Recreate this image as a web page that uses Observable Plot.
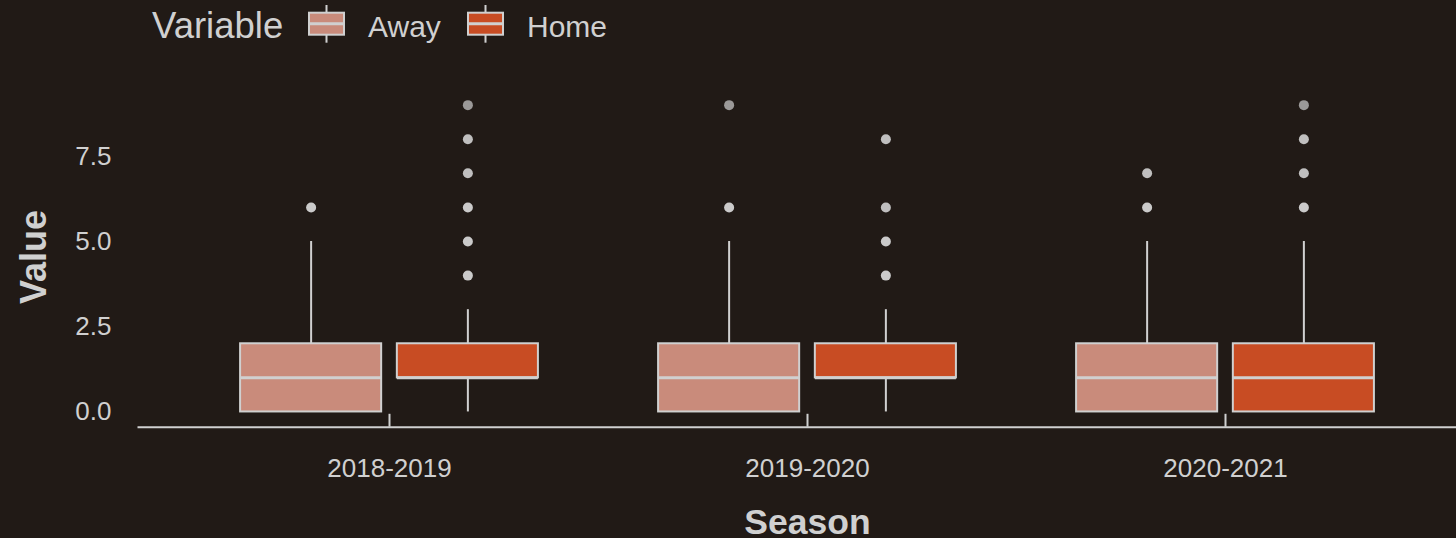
<!DOCTYPE html>
<html><head><meta charset="utf-8">
<script src="https://cdn.jsdelivr.net/npm/d3@7"></script>
<script src="https://cdn.jsdelivr.net/npm/@observablehq/plot@0.6"></script>
<style>
html,body{margin:0;padding:0;background:#211a16;overflow:hidden;width:1456px;height:538px;font-family:"Liberation Sans",Arial,sans-serif;}
#legend svg,#chart svg{display:block;}
</style></head><body>
<div id="legend"></div><div id="chart"></div>
<script>
// ---- data ----
const seasons = ["2018-2019", "2019-2020", "2020-2021"];
const variables = ["Away", "Home"];
const colors = ["#c98b7b", "#c84c23"];

const awayLow    = [0, 0, 0];
const awayQ1     = [0, 0, 0];
const awayMedian = [1, 1, 1];
const awayQ3     = [2, 2, 2];
const awayHigh   = [5, 5, 5];
const awayOutliers = [[6], [6, 9], [6, 7]];
const awayOutlierCounts = [[3], [3, 1], [3, 2]];

const homeLow    = [0, 0, 0];
const homeQ1     = [1, 1, 0];
const homeMedian = [1, 1, 1];
const homeQ3     = [2, 2, 2];
const homeHigh   = [3, 3, 5];
const homeOutliers = [[4, 5, 6, 7, 8, 9], [4, 5, 6, 8], [6, 7, 8, 9]];
const homeOutlierCounts = [[3, 3, 3, 2, 2, 1], [3, 3, 2, 2], [3, 2, 2, 1]];

const yTicks = [0, 2.5, 5, 7.5];

// ---- build tables ----
const dodge = 0.1875, half = 0.16875;
const ink = "#d0d0d0";
const rows = [], outs = [];
seasons.forEach((s, i) => {
  const sets = {
    Away: [awayLow, awayQ1, awayMedian, awayQ3, awayHigh, awayOutliers, awayOutlierCounts],
    Home: [homeLow, homeQ1, homeMedian, homeQ3, homeHigh, homeOutliers, homeOutlierCounts]
  };
  variables.forEach((v, j) => {
    const [lo, q1, md, q3, hi, ol, oc] = sets[v];
    const cx = i + 1 + (j === 0 ? -dodge : dodge);
    rows.push({season: s, variable: v, cx, x1: cx - half, x2: cx + half,
      lo: lo[i], q1: q1[i], median: md[i], q3: q3[i], hi: hi[i]});
    ol[i].forEach((val, k) => outs.push({season: s, variable: v, cx, value: val, n: oc[i][k]}));
  });
});

const xDomain = [0.4, 3.6];

const plot = Plot.plot({
  width: 1456, height: 486,
  marginLeft: 138, marginRight: 0, marginTop: 37.3, marginBottom: 111.2,
  style: {background: "transparent", color: ink, fontFamily: "'Liberation Sans', Arial, sans-serif", fontSize: "26px", overflow: "visible"},
  x: {type: "linear", domain: xDomain, range: [138.2, 1475.8]},
  y: {domain: [-0.45, 9.45]},
  color: {domain: variables, range: colors},
  marks: [
    Plot.frame({anchor: "bottom", stroke: ink, strokeWidth: 2}),
    Plot.axisX({ticks: [1, 2, 3], tickFormat: d => seasons[d - 1], tickSize: -13, tickPadding: 44, label: null, strokeWidth: 2, fontSize: 26}),
    Plot.axisY({ticks: yTicks, tickFormat: d3.format(".1f"), tickSize: 0, tickPadding: 27, label: null, fontSize: 26}),
    Plot.ruleX(rows, {x: "cx", y1: "q3", y2: "hi", stroke: ink, strokeWidth: 2}),
    Plot.ruleX(rows, {x: "cx", y1: "lo", y2: "q1", stroke: ink, strokeWidth: 2}),
    Plot.rectY(rows, {x1: "x1", x2: "x2", y1: "q1", y2: "q3", fill: "variable", stroke: ink, strokeWidth: 2}),
    Plot.ruleY(rows, {x1: "x1", x2: "x2", y: "median", stroke: ink, strokeWidth: 3}),
    Plot.dot(outs, {x: "cx", y: "value", r: 5, fill: ink, fillOpacity: d => 1 - Math.pow(0.3, d.n), stroke: null}),
    Plot.text(["Season"], {x: () => (xDomain[0] + xDomain[1]) / 2, frameAnchor: "bottom", dy: 95, lineAnchor: "middle", fontSize: 35.5, fontWeight: "bold", fill: ink}),
    Plot.text(["Value"], {frameAnchor: "left", rotate: -90, dx: -93, dy: -1.5, lineAnchor: "bottom", textAnchor: "middle", fontSize: 36, fontWeight: "bold", fill: ink})
  ]
});
document.getElementById("chart").appendChild(plot);

// ---- legend ----
const lg = d3.select("#legend").append("svg").attr("width", 1456).attr("height", 52);
lg.append("text").attr("x", 152).attr("y", 38).attr("fill", ink).attr("font-size", 36.5)
  .attr("font-family", "'Liberation Sans', Arial, sans-serif").text("Variable");
variables.forEach((v, j) => {
  const x0 = 309 + j * 159;
  const g = lg.append("g");
  g.append("line").attr("x1", x0 + 17.5).attr("x2", x0 + 17.5).attr("y1", 5).attr("y2", 42.7).attr("stroke", ink).attr("stroke-width", 2);
  g.append("rect").attr("x", x0).attr("y", 12.7).attr("width", 35).attr("height", 22).attr("fill", colors[j]).attr("stroke", ink).attr("stroke-width", 2);
  g.append("line").attr("x1", x0).attr("x2", x0 + 35).attr("y1", 23.7).attr("y2", 23.7).attr("stroke", ink).attr("stroke-width", 3);
  g.append("text").attr("x", x0 + 59).attr("y", 37).attr("fill", ink).attr("font-size", 30)
    .attr("font-family", "'Liberation Sans', Arial, sans-serif").text(v);
});
</script>
</body></html>
